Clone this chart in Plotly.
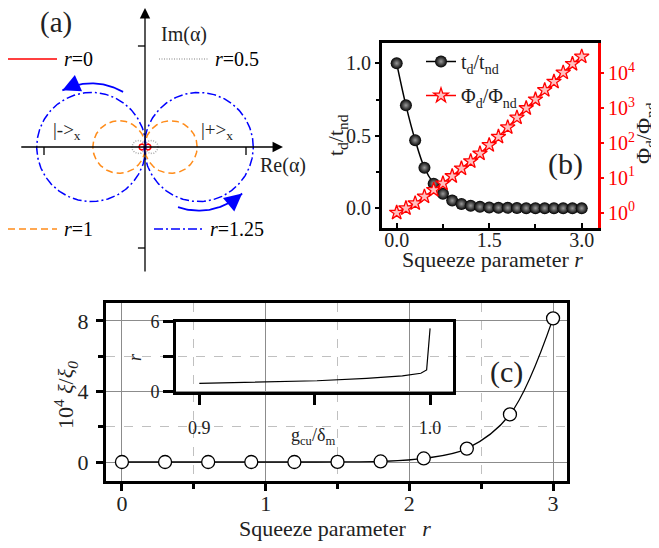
import numpy as np
import plotly.graph_objects as go

W, H = 659, 548
OFF = 8  # page body margin offset
FONT = "Liberation Serif"

# ---------------- data ----------------
# panel (a): phase-space circles for several squeeze parameters
a_r_labels = ["0", "0.5", "1", "1.25"]
a_radii = [0.03, 0.065, 0.26, 0.54]
a_colors = ["#ff0000", "#aaaaaa", "#ff8c1a", "#0000ff"]
a_dashes = ["solid", "1px,1.5px", "7px,4px", "9px,3px,2px,3px"]
a_ticks = [-1, 1]

# panel (b)
b_r = [0.0, 0.15, 0.3, 0.45, 0.6, 0.75, 0.9, 1.05, 1.2, 1.35, 1.5,
       1.65, 1.8, 1.95, 2.1, 2.25, 2.4, 2.55, 2.7, 2.85, 3.0]
t_ratio = [1.0, 0.71, 0.47, 0.28, 0.17, 0.10, 0.053, 0.03, 0.018, 0.01, 0.006,
           0.004, 0.003, 0.002, 0.001, 0.001, 0.0005, 0.0005, 0.0003, 0.0002, 0.0001]
phi_ratio = [1.0, 1.34, 1.86, 2.9, 4.5, 6.9, 11.2, 18.6, 30, 50, 87,
             151, 282, 537, 1000, 1780, 3310, 5750, 10500, 18600, 30200]
b_xticks = [0.0, 1.5, 3.0]
b_xtext = ["0.0", "1.5", "3.0"]
b_yticks = [0.0, 0.5, 1.0]
b_ytext = ["0.0", "0.5", "1.0"]
phi_exps = [0, 1, 2, 3, 4]

# panel (c)
c_r = [0.0, 0.3, 0.6, 0.9, 1.2, 1.5, 1.8, 2.1, 2.4, 2.7, 3.0]
c_xi = [0.0, 0.0, 0.0, 0.0, 0.0, 0.005, 0.03, 0.2, 0.76, 2.7, 8.15]
c_xticks = [0, 1, 2, 3]
c_yticks = [0, 4, 8]
inset_g = [0.9, 0.928, 0.951, 0.9725, 0.988, 0.996, 0.9985, 1.0]
inset_r = [0.72, 0.86, 0.94, 1.15, 1.35, 1.58, 1.86, 5.43]


def px(x):
    return (x - OFF) / W


def py(y):
    return 1 - (y - OFF) / H


def ann(x, y, text, size, color="#222", angle=0, xanchor="center"):
    fig.add_annotation(x=px(x), y=py(y), xref="paper", yref="paper", text=text,
                       showarrow=False, xanchor=xanchor, yanchor="middle",
                       textangle=angle,
                       font=dict(family=FONT, size=size, color=color))


fig = go.Figure()

# ---------------- panel (a) ----------------
th = np.linspace(0, 2 * np.pi, 240)
for rad, col, dsh in zip(a_radii, a_colors, a_dashes):
    for sgn in (-1, 1):
        cx = sgn * rad * 0.985
        fig.add_trace(go.Scatter(
            x=cx + rad * np.cos(th), y=rad * np.sin(th), mode="lines",
            line=dict(color=col, width=1.5, dash=dsh),
            xaxis="x", yaxis="y", showlegend=False, hoverinfo="skip"))

# curved blue arrows around the r=1.25 circles
R_big = a_radii[-1]
arc_r = R_big + 0.09
for sgn, t0, t1 in ((-1, 60, 117), (1, -109, -47)):
    cx = sgn * R_big * 0.985
    tt = np.radians(np.linspace(t0, t1, 60))
    fig.add_trace(go.Scatter(
        x=cx + arc_r * np.cos(tt), y=arc_r * np.sin(tt), mode="lines",
        line=dict(color="#0000ff", width=1.8),
        xaxis="x", yaxis="y", showlegend=False, hoverinfo="skip"))
    te = np.radians(t1)
    tb = np.radians(t1 - 6)
    fig.add_annotation(
        x=cx + arc_r * np.cos(te), y=arc_r * np.sin(te),
        ax=cx + arc_r * np.cos(tb), ay=arc_r * np.sin(tb),
        xref="x", yref="y", axref="x", ayref="y", text="",
        showarrow=True, arrowhead=2, arrowsize=2.2, arrowwidth=1.6,
        arrowcolor="#0000ff", standoff=0, startstandoff=0)

# coordinate axes with arrows
fig.add_annotation(x=1.366, y=0, ax=-1.24, ay=0, xref="x", yref="y",
                   axref="x", ayref="y", text="", showarrow=True,
                   arrowhead=2, arrowsize=1.6, arrowwidth=1.3,
                   arrowcolor="black", standoff=0)
fig.add_annotation(x=0, y=1.376, ax=0, ay=-1.248, xref="x", yref="y",
                   axref="x", ayref="y", text="", showarrow=True,
                   arrowhead=2, arrowsize=1.6, arrowwidth=1.3,
                   arrowcolor="black", standoff=0)
for t in a_ticks:
    fig.add_shape(type="line", x0=t, x1=t, y0=0, y1=-0.08, xref="x", yref="y",
                  line=dict(color="black", width=1.3))
    fig.add_shape(type="line", x0=-0.07, x1=0, y0=t, y1=t, xref="x", yref="y",
                  line=dict(color="black", width=1.3))

# legend-like samples in panel (a)
a_leg_pos = [(8, 57, 59, 62), (159, 208, 59, 213), (8, 57, 229, 62), (154, 202, 229, 208)]
for (x0, x1, yy, tx), lab, col, dsh in zip(a_leg_pos, a_r_labels, a_colors, a_dashes):
    fig.add_shape(type="line", xref="paper", yref="paper", x0=px(x0), x1=px(x1),
                  y0=py(yy), y1=py(yy), line=dict(color=col, width=1.5, dash=dsh))
    ann(tx, yy, "<i>r</i>=" + lab, 20, color="black", xanchor="left")

ann(56, 23, "(a)", 29)
ann(184, 34, "Im(α)", 20)
ann(283, 165, "Re(α)", 20)
ann(67, 131, "|-&gt;<sub>x</sub>", 19)
ann(217, 131, "|+&gt;<sub>x</sub>", 19)

# ---------------- panel (b) ----------------
fig.add_trace(go.Scatter(
    x=b_r, y=t_ratio, mode="lines+markers", name="t<sub>d</sub>/t<sub>nd</sub>",
    line=dict(color="black", width=1.5, shape="spline"),
    marker=dict(size=12, color="black", line=dict(width=0),
                gradient=dict(type="radial", color="#9a9a9a")),
    xaxis="x2", yaxis="y2", legendgroup="g1"))
fig.add_trace(go.Scatter(
    x=b_r, y=phi_ratio, mode="lines+markers", name="Φ<sub>d</sub>/Φ<sub>nd</sub>",
    line=dict(color="#ff0000", width=1.5),
    marker=dict(size=11, symbol="star", color="#ffc0c0",
                line=dict(color="#ff0000", width=1.3)),
    xaxis="x2", yaxis="y3", legendgroup="g2"))

ann(565, 164, "(b)", 30)
ann(337, 135, "t<sub>d</sub>/t<sub>nd</sub>", 22, angle=-90)
ann(645, 133, "Φ<sub>d</sub>/Φ<sub>nd</sub>", 22, angle=-90)
ann(492, 259, "Squeeze parameter <i>r</i>", 22)

# ---------------- panel (c) ----------------
fig.add_trace(go.Scatter(
    x=c_r, y=c_xi, mode="lines+markers",
    line=dict(color="black", width=1.3, shape="spline"),
    marker=dict(size=13, color="white", line=dict(color="black", width=1.3)),
    xaxis="x3", yaxis="y4", showlegend=False))
fig.add_trace(go.Scatter(
    x=inset_g, y=inset_r, mode="lines", line=dict(color="black", width=1.2),
    xaxis="x4", yaxis="y5", showlegend=False))

ann(506, 372, "(c)", 30)
ann(335, 528, "Squeeze parameter   <i>r</i>", 22)
ann(65, 395, "10<sup>4</sup> <i>ξ</i>/<i>ξ</i><sub><i>0</i></sub>", 22, angle=-90)
ann(313, 436, "g<sub>cu</sub>/δ<sub>m</sub>", 18)
ann(135, 357, "<i>r</i>", 18, angle=-90)

tickfont = dict(family=FONT, size=20, color="#222")
tickfont_c = dict(family=FONT, size=22, color="#222")

fig.update_layout(
    template="none",
    width=W, height=H, margin=dict(l=0, r=0, t=0, b=0, pad=0, autoexpand=False),
    paper_bgcolor="white", plot_bgcolor="rgba(0,0,0,0)",
    font=dict(family=FONT, color="#222"),
    # panel a
    xaxis=dict(domain=[px(8), px(330)], range=[(8 - 145) / 101, 185 / 101],
               visible=False, anchor="y", automargin=False),
    yaxis=dict(domain=[py(290), py(8)], range=[-143 / 101, (147 - 8) / 101],
               visible=False, anchor="x", automargin=False),
    # panel b
    xaxis2=dict(domain=[px(382), px(598)], range=[-0.238, 3.264], anchor="y2",
                tickvals=b_xticks, ticktext=b_xtext, ticks="inside", ticklen=5,
                tickwidth=2, tickcolor="black", automargin=False,
                ticklabelstandoff=-8,
                minor=dict(tickvals=[0.75, 2.25], ticks="inside", ticklen=4,
                           tickwidth=2, tickcolor="black"),
                showline=True, linewidth=3, linecolor="black", mirror=True,
                showgrid=False, zeroline=False, tickfont=tickfont),
    yaxis2=dict(domain=[py(228), py(43)], range=[-0.136, 1.14], anchor="x2",
                tickvals=b_yticks, ticktext=b_ytext, ticks="outside", ticklen=4,
                tickwidth=2, tickcolor="black", automargin=False,
                minor=dict(tickvals=[0.25, 0.75], ticks="outside", ticklen=3,
                           tickwidth=2, tickcolor="black"),
                showline=True, linewidth=3, linecolor="black", mirror=False,
                showgrid=False, zeroline=False, tickfont=tickfont),
    yaxis3=dict(overlaying="y2", side="right", anchor="x2", type="log",
                range=[-0.44, 4.87], automargin=False,
                tickvals=[10 ** e for e in phi_exps],
                ticktext=["10<sup>%d</sup>" % e for e in phi_exps],
                ticks="outside", ticklen=3, tickwidth=2, tickcolor="#ff0000",
                showline=True, linewidth=3, linecolor="#ff0000",
                showgrid=False, zeroline=False,
                tickfont=dict(family=FONT, size=20, color="#ff0000")),
    # panel c main
    xaxis3=dict(domain=[px(106), px(567)], range=[-0.111, 3.097], anchor="y4",
                tickvals=c_xticks, ticks="outside", ticklen=7, tickwidth=2.5,
                tickcolor="black", automargin=False, ticklabelstandoff=-6,
                minor=dict(tickvals=[0.5, 1.5, 2.5], ticks="outside", ticklen=5,
                           tickwidth=2.5, tickcolor="black", showgrid=True,
                           griddash="dash", gridcolor="#c0c0c0", gridwidth=1),
                showgrid=True, gridcolor="#8c8c8c", gridwidth=1,
                showline=True, linewidth=3, linecolor="black", mirror=True,
                zeroline=False, tickfont=tickfont_c),
    yaxis4=dict(domain=[py(481), py(303)], range=[-1.078, 9.02], anchor="x3",
                tickvals=c_yticks, ticks="outside", ticklen=7, tickwidth=2.5,
                tickcolor="black", automargin=False, ticklabelstandoff=3,
                minor=dict(tickvals=[2, 6], ticks="outside", ticklen=5,
                           tickwidth=2.5, tickcolor="black", showgrid=True,
                           griddash="dash", gridcolor="#c0c0c0", gridwidth=1),
                showgrid=True, gridcolor="#8c8c8c", gridwidth=1,
                showline=True, linewidth=3, linecolor="black", mirror=True,
                zeroline=False, tickfont=tickfont_c),
    # inset
    xaxis4=dict(domain=[px(176), px(452.7)], range=[0.8899, 1.0098], anchor="y5",
                tickvals=[0.9, 0.95, 1.0], ticktext=["0.9", "", "1.0"],
                ticks="outside", ticklen=10, tickwidth=3, tickcolor="black",
                ticklabelstandoff=8,
                showline=True, linewidth=3, linecolor="black", mirror=True,
                showgrid=False, zeroline=False, automargin=False,
                tickfont=dict(family=FONT, size=18, color="#222")),
    yaxis5=dict(domain=[py(391.7), py(321.7)], range=[0, 6], anchor="x4",
                tickvals=[0, 3, 6], ticktext=["0", "", "6"],
                ticks="outside", ticklen=10, tickwidth=3, tickcolor="black",
                showline=True, linewidth=3, linecolor="black", mirror=True,
                showgrid=False, zeroline=False, automargin=False,
                tickfont=dict(family=FONT, size=18, color="#222")),
    legend=dict(x=px(421), y=py(42), xanchor="left", yanchor="top",
                bgcolor="rgba(0,0,0,0)", borderwidth=0,
                font=dict(family=FONT, size=20, color="#222"),
                tracegroupgap=5, traceorder="grouped"),
)

fig.write_html("out.html")
